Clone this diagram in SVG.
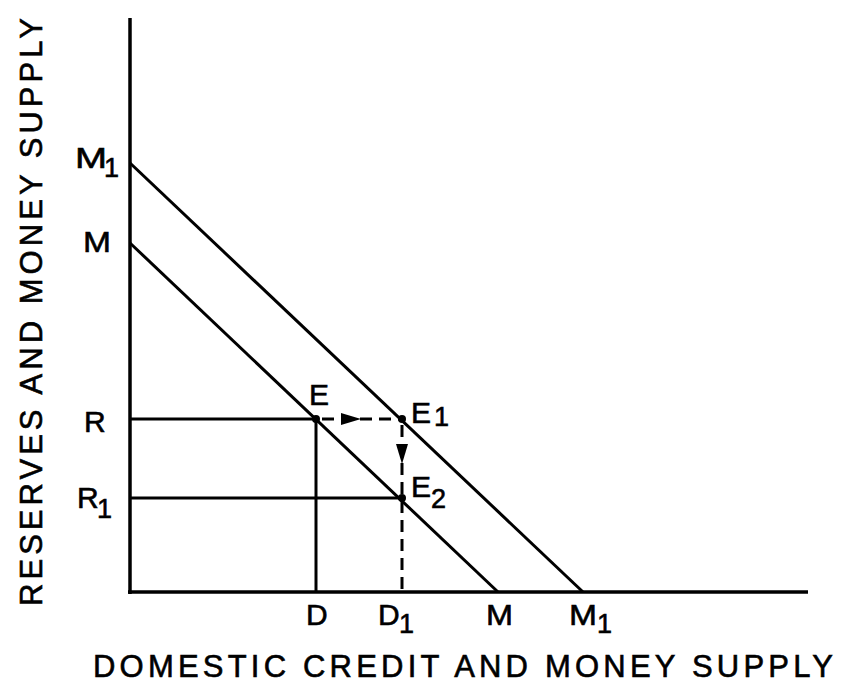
<svg xmlns="http://www.w3.org/2000/svg" width="847" height="689" viewBox="0 0 847 689">
<defs>
<style>
.ax{stroke:#000;stroke-width:3.5;fill:none}
.ln{stroke:#000;stroke-width:3;fill:none}
.ds{stroke:#000;stroke-width:3;fill:none;stroke-dasharray:12 7}
text{font-family:"Liberation Sans",Arial,sans-serif;fill:#000;stroke:#000;stroke-width:0.6}
.lb{font-size:30px}
.sb{font-size:27px}
.ti{font-size:31px}
</style>
</defs>
<rect width="847" height="689" fill="#fff"/>
<g id="axes">
<line class="ax" x1="130" y1="18" x2="130" y2="594"/>
<line class="ax" x1="128" y1="592" x2="808" y2="592"/>
</g>
<g id="connectors">
<line class="ln" x1="130" y1="163" x2="583" y2="592"/>
<line class="ln" x1="130" y1="243" x2="498" y2="592"/>
<line class="ln" x1="130" y1="419" x2="316" y2="419"/>
<line class="ln" x1="130" y1="498" x2="402" y2="498"/>
<line class="ln" x1="316" y1="419" x2="316" y2="592"/>
<line class="ds" x1="322" y1="419" x2="402" y2="419"/>
<line class="ds" x1="402" y1="425" x2="402" y2="592"/>
<path d="M341,413 L361,419 L341,425 Z" fill="#000"/>
<path d="M396,444 L402,464 L408,444 Z" fill="#000"/>
</g>
<g id="E"><circle cx="316" cy="419" r="4"/><text class="lb" x="309" y="405">E</text></g>
<g id="E1"><circle cx="402" cy="419" r="4"/><text class="lb" x="411" y="423">E</text><text class="sb" x="434" y="426">1</text></g>
<g id="E2"><circle cx="402" cy="498" r="4"/><text class="lb" x="411" y="497">E</text><text class="sb" x="431" y="508">2</text></g>
<g id="yM1"><text class="lb" x="75" y="168" textLength="32" lengthAdjust="spacingAndGlyphs">M</text><text class="sb" x="104" y="177">1</text></g>
<g id="yM"><text class="lb" x="83" y="252" textLength="28" lengthAdjust="spacingAndGlyphs">M</text></g>
<g id="yR"><text class="lb" x="84" y="432">R</text></g>
<g id="yR1"><text class="lb" x="77" y="508">R</text><text class="sb" x="97" y="518">1</text></g>
<g id="xD"><text class="lb" x="306" y="625">D</text></g>
<g id="xD1"><text class="lb" x="378" y="625">D</text><text class="sb" x="399" y="633">1</text></g>
<g id="xM"><text class="lb" x="486" y="625" textLength="27" lengthAdjust="spacingAndGlyphs">M</text></g>
<g id="xM1"><text class="lb" x="569" y="625" textLength="28" lengthAdjust="spacingAndGlyphs">M</text><text class="sb" x="597" y="633">1</text></g>
<g id="titles">
<text class="ti" x="93" y="677" textLength="740" lengthAdjust="spacing">DOMESTIC CREDIT AND MONEY SUPPLY</text>
<text class="ti" transform="translate(42,606) rotate(-90)" textLength="588" lengthAdjust="spacing">RESERVES AND MONEY SUPPLY</text>
</g>
</svg>
